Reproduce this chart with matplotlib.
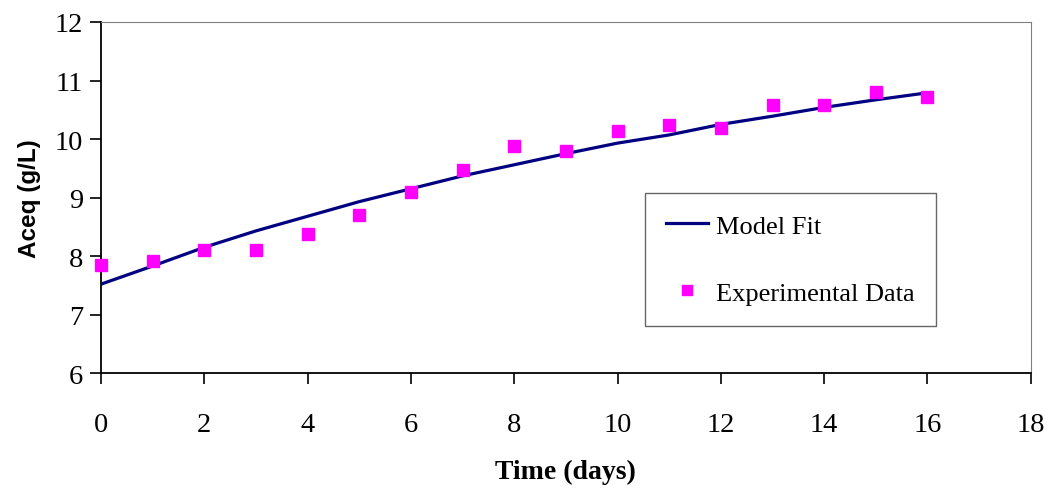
import matplotlib.pyplot as plt
import numpy as np

# Aceq over time: model fit vs experimental data
days = np.arange(0, 17)
aceq_exp = [7.85, 7.91, 8.10, 8.10, 8.38, 8.70, 9.09, 9.47, 9.88,
            9.79, 10.13, 10.24, 10.19, 10.58, 10.58, 10.80, 10.71]
aceq_fit = [7.52, 7.83, 8.15, 8.43, 8.68, 8.93, 9.15, 9.37, 9.56,
            9.75, 9.93, 10.07, 10.25, 10.39, 10.54, 10.67, 10.79]

x_ticks = np.arange(0, 19, 2)
y_ticks = np.arange(6, 13, 1)

serif = ['Liberation Serif', 'DejaVu Serif']
sans = ['Liberation Sans', 'DejaVu Sans']

fig = plt.figure(figsize=(10.47, 4.89), dpi=100)
ax = fig.add_axes([0.0965, 0.235, 0.888, 0.718])

ax.plot(days, aceq_fit, color='#000080', lw=2.3, label='Model Fit', zorder=3)
ax.plot(days, aceq_exp, 's', color='#ff00ff', ms=8.5, mec='#ff00ff',
        label='Experimental Data', zorder=4, clip_on=False)

ax.set_xlim(0, 18)
ax.set_ylim(6, 12)
ax.set_xticks(x_ticks)
ax.set_yticks(y_ticks)

for lab in ax.get_xticklabels() + ax.get_yticklabels():
    lab.set_family(serif)
    lab.set_fontsize(20.5)

ax.tick_params(axis='both', direction='out', length=8, width=1.2, color='black')
ax.tick_params(axis='x', pad=20)
ax.tick_params(axis='y', pad=5)

ax.spines['left'].set_color('black')
ax.spines['bottom'].set_color('black')
ax.spines['left'].set_linewidth(1.3)
ax.spines['bottom'].set_linewidth(1.3)
ax.spines['top'].set_color('#808080')
ax.spines['right'].set_color('#808080')

ax.set_xlabel('Time (days)', family=serif, fontweight='bold', fontsize=20, labelpad=16)
ax.set_ylabel('Aceq (g/L)', family=sans, fontweight='bold', fontsize=17.5, labelpad=10)

leg = ax.legend(loc='upper left', bbox_to_anchor=(0.585, 0.513), prop={'family': serif, 'size': 19},
                frameon=True, fancybox=False, edgecolor='#404040', handlelength=1.6,
                handletextpad=0.3, labelspacing=1.65, borderpad=0.8, borderaxespad=0)
leg.get_frame().set_linewidth(1.0)
for h in leg.legend_handles:
    if h.get_marker() == 's':
        h.set_markersize(7)

fig.savefig('out.png', dpi=100)
